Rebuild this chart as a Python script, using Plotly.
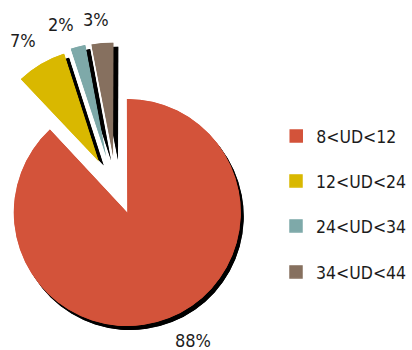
import math
import plotly.graph_objects as go

W, H = 412, 350

# ---- data -------------------------------------------------------------
categories = ["8<UD<12", "12<UD<24", "24<UD<34", "34<UD<44"]
shares = [88, 7, 2, 3]
colors = ["#D3533A", "#D9B800", "#7EA9A9", "#86705F"]

# ---- geometry (page pixels) -------------------------------------------
R_PX = 115.5                                   # wedge radius
apex_px = [(129.5, 212.5), (100.5, 162.5), (108.0, 157.5), (115.0, 157.0)]
shadow_off = [(3, 4), (5, 4), (5, 4), (5, 4)]  # drop-shadow offset per wedge
label_px = [(196, 340), (23.5, 40), (62.5, 24.5), (97.5, 19.5)]
legend_y_px = [136, 181, 226, 272]

FONT = "DejaVu Sans Condensed, DejaVu Sans, sans-serif"
TEXT_COLOR = "#1c1c1c"


def sector_bbox(s0, s1):
    """Bounding box of a polar sector (unit radius, incl. origin)."""
    arc = s1 - s0
    a0 = s0 % 360
    a1 = a0 + arc
    c0, n0 = math.cos(math.radians(a0)), math.sin(math.radians(a0))
    c1, n1 = math.cos(math.radians(a1)), math.sin(math.radians(a1))
    if (a0 <= 90 <= a1) or (a0 > 90 and a1 >= 450):
        y1 = 1
    elif n0 <= 0 and n1 <= 0:
        y1 = 0
    else:
        y1 = max(n0, n1)
    if (a0 <= 270 <= a1) or (a0 > 270 and a1 >= 630):
        y0 = -1
    elif n0 >= 0 and n1 >= 0:
        y0 = 0
    else:
        y0 = min(n0, n1)
    if a1 >= 360:
        x1 = 1
    elif c0 <= 0 and c1 <= 0:
        x1 = 0
    else:
        x1 = max(c0, c1)
    if (a0 <= 180 <= a1) or (a0 > 180 and a1 >= 540):
        x0 = -1
    elif c0 >= 0 and c1 >= 0:
        x0 = 0
    else:
        x0 = min(c0, c1)
    return x0, y0, x1, y1


total = sum(shares)
starts, spans = [], []
acc = 0.0
for v in shares:
    starts.append(acc / total * 360)
    spans.append(v / total * 360)
    acc += v

fig = go.Figure()
layout = dict(
    width=W, height=H,
    margin=dict(l=0, r=0, t=0, b=0),
    paper_bgcolor="white", plot_bgcolor="white",
    showlegend=True,
)


def add_wedge(idx, sub, cx, cy, color, name, legend):
    start, span = starts[idx], spans[idx]
    pad = 0.3 if span < 359 else 0
    s0 = 90 - (start + span) - pad
    s1 = 90 - start + pad
    if span >= 359:
        s0, s1 = 0, 360
    bx0, by0, bx1, by1 = sector_bbox(s0, s1)
    px0, px1 = cx + R_PX * bx0, cx + R_PX * bx1
    py_top, py_bot = cy - R_PX * by1, cy - R_PX * by0
    key = "polar" if sub == 1 else f"polar{sub}"
    layout[key] = dict(
        domain=dict(x=[px0 / W, px1 / W], y=[1 - py_bot / H, 1 - py_top / H]),
        sector=[s0, s1],
        hole=0,
        bgcolor="rgba(0,0,0,0)",
        angularaxis=dict(visible=False, direction="clockwise", rotation=90),
        radialaxis=dict(visible=False, range=[0, 1]),
    )
    fig.add_trace(go.Barpolar(
        r=[1], theta=[start + span / 2], width=[span],
        marker=dict(color=color, line=dict(color=color, width=1.5)),
        name=name,
        showlegend=legend is not None,
        legend=legend,
        subplot=key,
        hoverinfo="skip",
    ))


sub = 1
# shadows first, underneath the coloured wedges
for i in range(len(shares)):
    ax, ay = apex_px[i]
    dx, dy = shadow_off[i]
    add_wedge(i, sub, ax + dx, ay + dy, "#000000", None, None)
    sub += 1

legend_keys = ["legend", "legend2", "legend3", "legend4"]
for i in range(len(shares)):
    ax, ay = apex_px[i]
    add_wedge(i, sub, ax, ay, colors[i], categories[i], legend_keys[i])
    sub += 1

for i, key in enumerate(legend_keys):
    layout[key] = dict(
        x=281 / W, xanchor="left",
        y=1 - legend_y_px[i] / H, yanchor="middle",
        bgcolor="rgba(0,0,0,0)",
        font=dict(family=FONT, size=17.5, color=TEXT_COLOR),
        itemclick=False, itemdoubleclick=False,
    )

annotations = []
for i, v in enumerate(shares):
    lx, ly = label_px[i]
    annotations.append(dict(
        text=f"{v / total * 100:.0f}%",
        x=lx / W, y=1 - ly / H, xref="paper", yref="paper",
        xanchor="center", yanchor="middle", showarrow=False,
        font=dict(family=FONT, size=18, color=TEXT_COLOR),
    ))
layout["annotations"] = annotations

fig.update_layout(**layout)
fig.write_html("out.html")
